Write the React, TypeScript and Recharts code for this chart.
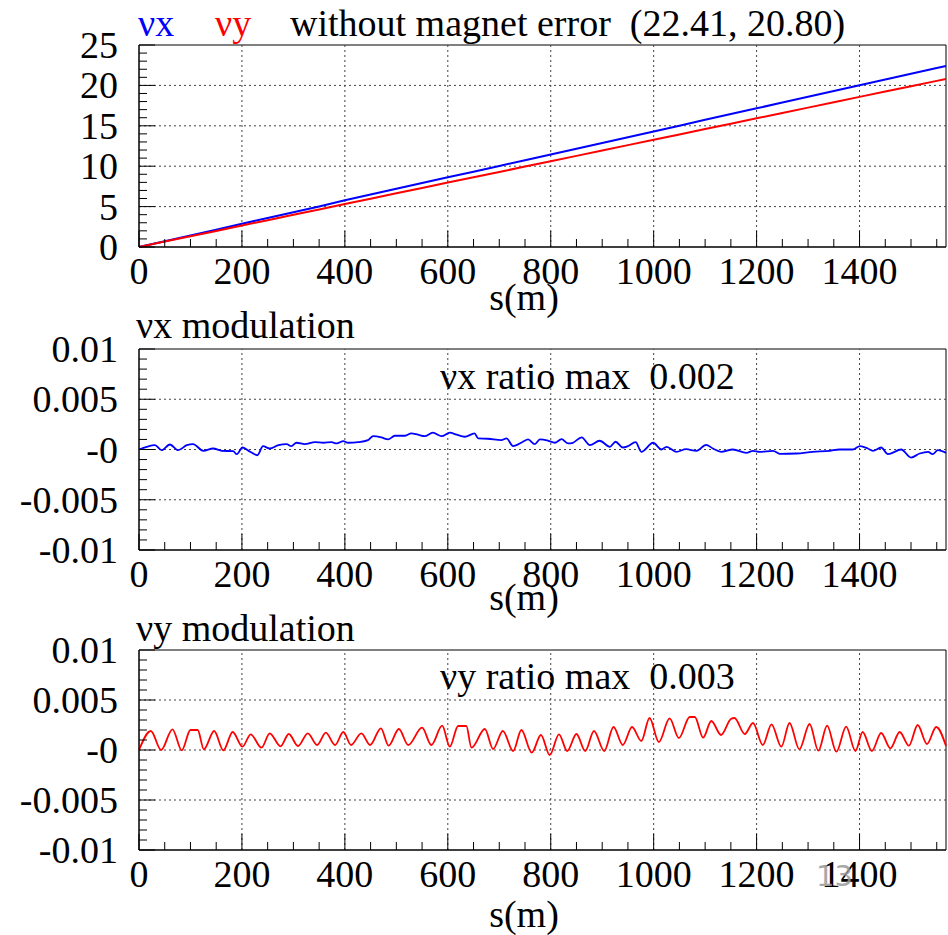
import React from 'react';
import { LineChart, Line, XAxis, YAxis, ReferenceLine, ReferenceArea } from 'recharts';

const FONT = '"Liberation Serif", "Times New Roman", serif';
const FS = 38;
const S_MAX = 1568;

// s axis ticks (minor every 50 m, labels every 200 m)
const S_TICKS = [0, 50, 100, 150, 200, 250, 300, 350, 400, 450, 500, 550, 600, 650, 700, 750, 800, 850, 900, 950, 1000, 1050, 1100, 1150, 1200, 1250, 1300, 1350, 1400, 1450, 1500, 1550];
const S_GRID = [200, 400, 600, 800, 1000, 1200, 1400];

// top plot: accumulated tunes
const TUNE_TICKS = [0, 1, 2, 3, 4, 5, 6, 7, 8, 9, 10, 11, 12, 13, 14, 15, 16, 17, 18, 19, 20, 21, 22, 23, 24, 25];
const TUNE_GRID = [5, 10, 15, 20];
const S_TUNE = [0, 50, 100, 150, 200, 250, 300, 350, 400, 450, 500, 550, 600, 650, 700, 750, 800, 850, 900, 950, 1000, 1050, 1100, 1150, 1200, 1250, 1300, 1350, 1400, 1450, 1500, 1550, 1568];
const NUX = [0, 0.7, 1.42, 2.13, 2.88, 3.58, 4.31, 5.02, 5.78, 6.49, 7.21, 7.92, 8.63, 9.31, 10.03, 10.73, 11.46, 12.15, 12.86, 13.58, 14.3, 15.01, 15.75, 16.45, 17.16, 17.88, 18.6, 19.3, 20.03, 20.72, 21.45, 22.15, 22.41];
const NUY = [0, 0.67, 1.33, 1.99, 2.66, 3.32, 3.99, 4.65, 5.31, 5.98, 6.64, 7.3, 7.97, 8.62, 9.29, 9.95, 10.61, 11.28, 11.94, 12.61, 13.27, 13.93, 14.6, 15.26, 15.93, 16.58, 17.25, 17.91, 18.58, 19.24, 19.9, 20.56, 20.8];

// modulation plots
const MOD_TICKS = [-0.01, -0.009, -0.008, -0.007, -0.006, -0.005, -0.004, -0.003, -0.002, -0.001, 0, 0.001, 0.002, 0.003, 0.004, 0.005, 0.006, 0.007, 0.008, 0.009, 0.01];
const MOD_MAJOR = [-0.01, -0.005, 0, 0.005, 0.01];
const MOD_LABELS = ['-0.01', '-0.005', '-0', '0.005', '0.01'];
const MOD_GRID = [-0.005, 0, 0.005];

const S_NUX_MOD = [0, 15, 31, 44, 60, 76, 93, 105, 125, 144, 161, 183, 190, 201, 216, 230, 241, 254, 271, 287, 296, 306, 322, 342, 358, 374, 384, 397, 406, 426, 445, 455, 471, 484, 497, 517, 529, 542, 555, 571, 588, 604, 617, 633, 652, 659, 678, 704, 714, 727, 746, 756, 769, 779, 795, 808, 821, 834, 843, 860, 876, 895, 915, 926, 940, 950, 965, 976, 999, 1015, 1025, 1044, 1063, 1083, 1102, 1115, 1131, 1154, 1180, 1193, 1206, 1232, 1245, 1277, 1309, 1342, 1361, 1387, 1401, 1416, 1426, 1442, 1455, 1481, 1500, 1517, 1533, 1542, 1552, 1568];
const NUX_MOD = [0, 0.00027, 0.00043, -0.00007, 0.0005, -0.00007, 0.00043, 0.00053, -0.00013, 0.0001, -0.00013, -0.00017, -0.00047, 0.0002, -0.00023, -0.00057, 0.00033, 0.0001, 0.00043, 0.00053, 0.00033, 0.00067, 0.00053, 0.00073, 0.00067, 0.00073, 0.0006, 0.00083, 0.00067, 0.00073, 0.00093, 0.00133, 0.0012, 0.001, 0.00137, 0.00137, 0.0016, 0.00147, 0.00133, 0.00167, 0.00133, 0.00167, 0.00147, 0.00127, 0.0016, 0.0011, 0.00107, 0.00093, 0.0011, 0.00033, 0.00077, 0.001, 0.00053, 0.001, 0.00087, 0.00067, 0.00103, 0.0006, 0.00067, 0.0012, 0.00043, 0.00087, 0.00027, 0.00077, 0.0002, 0.00033, 0.00073, -0.00023, 0.00067, 0, 0.00027, -0.00023, 0.00003, -0.00013, 0.00047, 0.0001, -0.00023, 0, -0.00033, -0.00013, -0.00023, -0.00013, -0.00043, -0.0004, -0.00023, -0.00013, 0, 0, 0.00033, 0.0001, -0.00013, 0.0002, -0.00047, 0, -0.0008, -0.0004, -0.00023, -0.00047, -0.00007, -0.00033];

const S_NUY_MOD = [0, 23, 43, 65, 83, 100, 114, 126, 146, 164, 182, 201, 217, 238, 254, 275, 291, 309, 328, 346, 363, 381, 397, 412, 432, 449, 470, 485, 505, 523, 550, 568, 589, 604, 620, 636, 646, 672, 688, 707, 727, 743, 763, 781, 798, 816, 832, 850, 867, 884, 904, 922, 940, 958, 976, 992, 1010, 1031, 1049, 1070, 1080, 1096, 1112, 1131, 1150, 1157, 1177, 1193, 1212, 1229, 1248, 1264, 1283, 1303, 1320, 1337, 1355, 1374, 1392, 1406, 1424, 1442, 1460, 1478, 1496, 1513, 1531, 1549, 1568];
const NUY_MOD = [0, 0.0019, 0, 0.00207, -0.00003, 0.002, 0.002, 0.00007, 0.0019, -0.00003, 0.0018, 0.00033, 0.00157, 0.00023, 0.00167, 0.00037, 0.0016, 0.0004, 0.00167, 0.0005, 0.00173, 0.0005, 0.0018, 0.0005, 0.00167, 0.0005, 0.00217, 0.00043, 0.0021, 0.0005, 0.00223, 0.0005, 0.00243, 0.00033, 0.0024, 0.0024, 0.00023, 0.0021, 0.0001, 0.0019, -0.0001, 0.002, -0.00027, 0.0015, -0.0005, 0.00157, -0.0001, 0.0016, -0.0001, 0.0019, -0.0001, 0.0023, 0.0005, 0.0023, 0.0009, 0.0032, 0.0008, 0.00317, 0.0012, 0.0033, 0.0033, 0.00123, 0.0029, 0.0015, 0.0031, 0.0032, 0.0016, 0.0027, 0.0005, 0.00257, 0.00033, 0.0027, 0.00007, 0.0026, -0.00007, 0.00243, -0.00017, 0.00233, -0.0001, 0.0018, -0.0001, 0.0017, 0.00017, 0.0018, 0.00043, 0.0025, 0.0006, 0.0023, 0.0004];

const tuneData = S_TUNE.map((s, i) => ({ s, nux: NUX[i], nuy: NUY[i] }));
const nuxModData = S_NUX_MOD.map((s, i) => ({ s, v: NUX_MOD[i] }));
const nuyModData = S_NUY_MOD.map((s, i) => ({ s, v: NUY_MOD[i] }));

const SAxisTick = (props: any) => {
  const { x, y, payload } = props;
  const major = payload.value % 200 === 0;
  return (
    <g>
      <line x1={x} y1={y} x2={x} y2={y - (major ? 16 : 8)} stroke="#000" strokeWidth={1} />
      {major && (
        <text x={x} y={y + 37} textAnchor="middle" fontSize={FS} fontFamily={FONT} fill="#000">
          {payload.value}
        </text>
      )}
    </g>
  );
};

const makeYTick = (labelOf: (v: number) => string | null) => (props: any) => {
  const { x, y, payload } = props;
  const label = labelOf(payload.value);
  return (
    <g>
      <line x1={x} y1={y} x2={x + (label !== null ? 16 : 8)} y2={y} stroke="#000" strokeWidth={1} />
      {label !== null && (
        <text x={x - 21} y={y + 13} textAnchor="end" fontSize={FS} fontFamily={FONT} fill="#000">
          {label}
        </text>
      )}
    </g>
  );
};

const TuneTick = makeYTick((v) => (v % 5 === 0 ? String(v) : null));
const ModTick = makeYTick((v) => {
  const i = MOD_MAJOR.findIndex((m) => Math.abs(m - v) < 1e-9);
  return i >= 0 ? MOD_LABELS[i] : null;
});

const grid = { stroke: '#444', strokeDasharray: '2 3', strokeWidth: 1 };

export default function App() {
  return (
    <div style={{ position: 'absolute', left: 0, top: 0, width: 948, height: 935, background: '#fff', fontFamily: FONT }}>
      {/* tunes */}
      <div style={{ position: 'absolute', left: 0, top: 0 }}>
        <LineChart width={948} height={300} data={tuneData} margin={{ top: 45, right: 2, bottom: 23, left: 79 }}>
          <XAxis dataKey="s" type="number" domain={[0, S_MAX]} ticks={S_TICKS} interval={0} tickSize={0} tickMargin={0} height={30} tick={SAxisTick} stroke="#000" />
          <YAxis type="number" domain={[0, 25]} ticks={TUNE_TICKS} interval={0} tickSize={0} tickMargin={0} width={60} tick={TuneTick} stroke="#000" />
          {S_GRID.map((s) => <ReferenceLine key={'x' + s} x={s} {...grid} />)}
          {TUNE_GRID.map((v) => <ReferenceLine key={'y' + v} y={v} {...grid} />)}
          <ReferenceArea x1={0} x2={S_MAX} y1={0} y2={25} fill="none" stroke="#000" strokeWidth={1} />
          <Line dataKey="nux" type="linear" stroke="#0000ff" strokeWidth={2} dot={false} isAnimationActive={false} />
          <Line dataKey="nuy" type="linear" stroke="#ff0000" strokeWidth={2} dot={false} isAnimationActive={false} />
        </LineChart>
      </div>

      {/* nu x modulation */}
      <div style={{ position: 'absolute', left: 0, top: 300 }}>
        <LineChart width={948} height={300} data={nuxModData} margin={{ top: 49, right: 2, bottom: 20, left: 79 }}>
          <XAxis dataKey="s" type="number" domain={[0, S_MAX]} ticks={S_TICKS} interval={0} tickSize={0} tickMargin={0} height={30} tick={SAxisTick} stroke="#000" />
          <YAxis type="number" domain={[-0.01, 0.01]} ticks={MOD_TICKS} interval={0} tickSize={0} tickMargin={0} width={60} tick={ModTick} stroke="#000" />
          {S_GRID.map((s) => <ReferenceLine key={'x' + s} x={s} {...grid} />)}
          {MOD_GRID.map((v) => <ReferenceLine key={'y' + v} y={v} {...grid} />)}
          <ReferenceArea x1={0} x2={S_MAX} y1={-0.01} y2={0.01} fill="none" stroke="#000" strokeWidth={1} />
          <Line dataKey="v" type="monotone" stroke="#0000ff" strokeWidth={1.8} dot={false} isAnimationActive={false} />
        </LineChart>
      </div>

      {/* nu y modulation */}
      <div style={{ position: 'absolute', left: 0, top: 600 }}>
        <LineChart width={948} height={335} data={nuyModData} margin={{ top: 50, right: 2, bottom: 55, left: 79 }}>
          <XAxis dataKey="s" type="number" domain={[0, S_MAX]} ticks={S_TICKS} interval={0} tickSize={0} tickMargin={0} height={30} tick={SAxisTick} stroke="#000" />
          <YAxis type="number" domain={[-0.01, 0.01]} ticks={MOD_TICKS} interval={0} tickSize={0} tickMargin={0} width={60} tick={ModTick} stroke="#000" />
          {S_GRID.map((s) => <ReferenceLine key={'x' + s} x={s} {...grid} />)}
          {MOD_GRID.map((v) => <ReferenceLine key={'y' + v} y={v} {...grid} />)}
          <ReferenceArea x1={0} x2={S_MAX} y1={-0.01} y2={0.01} fill="none" stroke="#000" strokeWidth={1} />
          <Line dataKey="v" type="monotone" stroke="#ff0000" strokeWidth={1.8} dot={false} isAnimationActive={false} />
        </LineChart>
      </div>

      {/* titles and labels */}
      <svg width={948} height={935} style={{ position: 'absolute', left: 0, top: 0, pointerEvents: 'none' }}>
        <g fontFamily={FONT} fontSize={FS} fill="#000">
          <text x={138} y={36} fill="#0000ff">νx</text>
          <text x={215} y={36} fill="#ff0000">νy</text>
          <text x={290} y={36} xmlSpace="preserve">without magnet error  (22.41, 20.80)</text>
          <text x={524} y={310} textAnchor="middle">s(m)</text>

          <text x={136} y={338}>νx modulation</text>
          <text x={440} y={389} xmlSpace="preserve">νx ratio max  0.002</text>
          <text x={524} y={610} textAnchor="middle">s(m)</text>

          <text x={136} y={641}>νy modulation</text>
          <text x={440} y={689} xmlSpace="preserve">νy ratio max  0.003</text>
          <text x={524} y={927} textAnchor="middle">s(m)</text>
        </g>
        <text x={816} y={886} fontFamily='"DejaVu Sans", sans-serif' fontSize={29} fill="#999" opacity={0.85}>13</text>
      </svg>
    </div>
  );
}
